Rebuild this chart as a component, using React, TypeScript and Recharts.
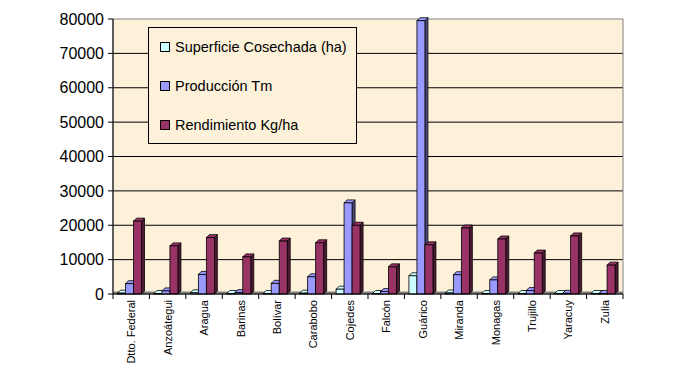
import React from "react";
import {
  Bar,
  BarChart,
  CartesianGrid,
  ReferenceArea,
  XAxis,
  YAxis,
} from "recharts";

const categories = [
  "Dtto. Federal",
  "Anzoátegui",
  "Aragua",
  "Barinas",
  "Bolívar",
  "Carabobo",
  "Cojedes",
  "Falcón",
  "Guárico",
  "Miranda",
  "Monagas",
  "Trujillo",
  "Yaracuy",
  "Zulia",
];
const superficie = [250, 150, 350, 100, 50, 250, 1400, 100, 5300, 300, 150, 150, 100, 100];
const produccion = [3000, 900, 5700, 400, 3100, 5000, 26500, 700, 79500, 5600, 4100, 1000, 200, 150];
const rendimiento = [21200, 14000, 16400, 10800, 15400, 14900, 20000, 7900, 14300, 19200, 16000, 11900, 16900, 8400];
const yTicks = [0, 10000, 20000, 30000, 40000, 50000, 60000, 70000, 80000];
const gridValues = [10000, 20000, 30000, 40000, 50000, 60000, 70000];

const SERIES = [
  { key: "sup", name: "Superficie Cosechada (ha)", color: "#ccffff", side: "#668080" },
  { key: "prod", name: "Producción Tm", color: "#9999ff", side: "#4d4d80" },
  { key: "rend", name: "Rendimiento Kg/ha", color: "#993366", side: "#4d1a33" },
];

const data = categories.map((c, i) => ({
  name: c,
  sup: superficie[i],
  prod: produccion[i],
  rend: rendimiento[i],
}));

const W = 679;
const H = 384;
const LEFT = 113;
const RIGHT = 56;
const PLOT_W = W - LEFT - RIGHT;
const BAND = PLOT_W / categories.length;
const BG = "#fdf1da";
const FONT = "'Liberation Sans', Arial, sans-serif";
const D = 3;

// bar with a small 3D side and top, like the old spreadsheet chart
function Box3D(props: any) {
  const { y, width, height, fill, side } = props;
  const x = props.x - 1.5;
  if (props.x == null || y == null) return null;
  const h = Math.max(height, 0.5);
  const y0 = y + height - h;
  return (
    <g>
      <polygon
        points={`${x + width},${y0} ${x + width + D},${y0 - D} ${x + width + D},${y0 + h - D} ${x + width},${y0 + h}`}
        fill={side}
        stroke="#000"
        strokeWidth={0.8}
      />
      <polygon
        points={`${x},${y0} ${x + D},${y0 - D} ${x + width + D},${y0 - D} ${x + width},${y0}`}
        fill={fill}
        stroke="#000"
        strokeWidth={0.8}
      />
      <rect x={x} y={y0} width={width} height={h} fill={fill} stroke="#000" strokeWidth={0.8} />
    </g>
  );
}

function XTick(props: any) {
  const { x, y, payload, index } = props;
  const left = x - BAND / 2;
  return (
    <g>
      <line x1={left} x2={left} y1={y} y2={y + 5} stroke="#000" />
      {index === categories.length - 1 && (
        <line x1={x + BAND / 2} x2={x + BAND / 2} y1={y} y2={y + 5} stroke="#000" />
      )}
      <text
        x={x}
        y={y + 6}
        transform={`rotate(-90, ${x}, ${y + 6})`}
        textAnchor="end"
        dominantBaseline="central"
        fontSize={11}
        fontFamily={FONT}
        fill="#000"
      >
        {payload.value}
      </text>
    </g>
  );
}

function LegendBox() {
  return (
    <div
      style={{
        position: "absolute",
        left: 148,
        top: 27,
        width: 207,
        height: 115,
        border: "1px solid #000",
        background: BG,
        fontFamily: FONT,
        fontSize: 14.5,
        color: "#000",
      }}
    >
      {SERIES.map((s, i) => (
        <div
          key={s.key}
          style={{
            position: "absolute",
            left: 11,
            top: 19 + i * 38.8 - 9,
            height: 18,
            display: "flex",
            alignItems: "center",
            whiteSpace: "nowrap",
          }}
        >
          <span
            style={{
              display: "inline-block",
              width: 8,
              height: 8,
              border: "1px solid #000",
              background: s.color,
              marginRight: 5,
            }}
          />
          {s.name}
        </div>
      ))}
    </div>
  );
}

export default function App() {
  return (
    <div style={{ position: "absolute", left: 0, top: 0, width: W, height: H, background: "#fff" }}>
      <BarChart
        width={W}
        height={H}
        data={data}
        margin={{ top: 19, right: RIGHT, bottom: 0, left: 0 }}
        barGap={0}
        barSize={8}
      >
        <CartesianGrid
          fill={BG}
          vertical={false}
          stroke="#000"
          horizontalValues={gridValues}
        />
        <ReferenceArea y1={0} y2={80000} fill="none" fillOpacity={0} stroke="#808080" strokeWidth={1} />
        <ReferenceArea y1={0} y2={700} fill="#808080" fillOpacity={1} stroke="none" />
        <XAxis
          dataKey="name"
          interval={0}
          height={90}
          tickSize={0}
          tickMargin={0}
          tickLine={false}
          axisLine={{ stroke: "#000" }}
          tick={<XTick />}
        />
        <YAxis
          type="number"
          domain={[0, 80000]}
          ticks={yTicks}
          interval={0}
          width={LEFT}
          tickSize={5}
          tickMargin={4}
          axisLine={{ stroke: "#000" }}
          tickLine={{ stroke: "#000" }}
          tick={{ fill: "#000", fontSize: 16, fontFamily: FONT }}
        />
        {SERIES.map((s) => (
          <Bar
            key={s.key}
            dataKey={s.key}
            name={s.name}
            fill={s.color}
            isAnimationActive={false}
            shape={(p: any) => <Box3D {...p} side={s.side} />}
          />
        ))}
      </BarChart>
      <LegendBox />
    </div>
  );
}
